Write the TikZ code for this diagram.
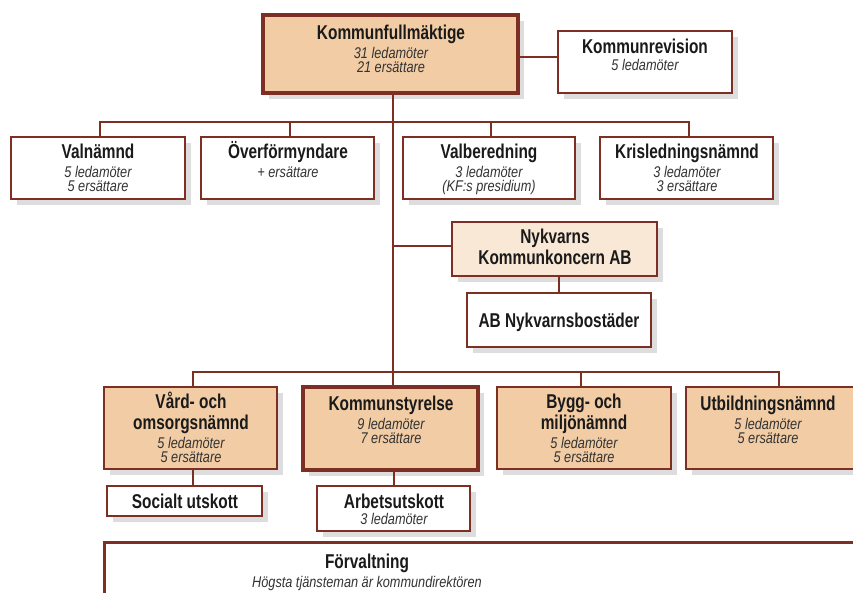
\documentclass[tikz,border=0pt]{standalone}
\usepackage{fontspec}
\setmainfont{Liberation Sans}[FakeStretch=0.77]
\newfontfamily\orgitfam{Liberation Sans}[FakeStretch=0.82]
\usetikzlibrary{shadows}
\definecolor{bord}{HTML}{7E2F24}
\definecolor{orgtan}{HTML}{F1CCA5}
\definecolor{orglight}{HTML}{FAE8D7}
\definecolor{shad}{HTML}{DDDDDD}
\definecolor{txtbold}{HTML}{1A1A1A}
\definecolor{txtit}{HTML}{333333}
\newcommand\orgtitle[1]{\rule[-6pt]{0pt}{21pt}{\color{txtbold}\bfseries\fontsize{20}{20}\selectfont #1}}
\newcommand\orgsub[1]{\rule[-1pt]{0pt}{14pt}{\color{txtit}\orgitfam\itshape\fontsize{15.5}{15.5}\selectfont #1}}
\newcommand\orgtext[1]{{\renewcommand\arraystretch{0}\begin{tabular}[t]{@{}c@{}}#1\end{tabular}}}
\tikzset{
  box/.style={draw=bord, line width=2.2pt, fill=white, inner sep=0pt,
    drop shadow={shadow xshift=6pt, shadow yshift=-6pt, fill=shad, opacity=1}},
  tanbox/.style={box, fill=orgtan},
  lightbox/.style={box, fill=orglight},
  heavybox/.style={tanbox, line width=4pt},
  conn/.style={draw=bord, line width=2pt},
  lbl/.style={anchor=base, inner sep=0pt}
}
\begin{document}
\begin{tikzpicture}[x=1pt,y=-1pt]
\useasboundingbox (0,0) rectangle (853,592);
\clip (0,0) rectangle (853,592);
% boxes
\node[heavybox, minimum width=255pt, minimum height=78pt] (kf) at (390.5,54) {};
\node[box, minimum width=174pt, minimum height=62pt] (krev) at (645,62) {};
\node[box, minimum width=174pt, minimum height=62pt] (valn) at (98,168) {};
\node[box, minimum width=173pt, minimum height=62pt] (overf) at (287.5,168) {};
\node[box, minimum width=172pt, minimum height=62pt] (valb) at (489,168) {};
\node[box, minimum width=173pt, minimum height=62pt] (kris) at (686.5,168) {};
\node[lightbox, minimum width=205pt, minimum height=54pt] (nyk) at (554.5,249) {};
\node[box, minimum width=184pt, minimum height=54pt] (abn) at (559,320) {};
\node[tanbox, minimum width=173pt, minimum height=82pt] (vard) at (190.5,428) {};
\node[heavybox, minimum width=175pt, minimum height=83pt] (ks) at (390.5,428.5) {};
\node[tanbox, minimum width=174pt, minimum height=82pt] (bygg) at (584,428) {};
\node[tanbox, minimum width=186pt, minimum height=82pt] (utb) at (779,428) {};
\node[box, minimum width=155pt, minimum height=30pt] (soc) at (184.5,501) {};
\node[box, minimum width=153pt, minimum height=45pt] (au) at (393.5,508.5) {};
\node[box, line width=3pt, minimum width=796pt, minimum height=98pt] (forv) at (502,591) {};
% bus points
\coordinate (bus1) at (393,122);
\coordinate (bus2) at (393,372);
% connectors
\draw[conn] ([yshift=-3pt]kf.east) -- ([yshift=-3pt]kf.east -| krev.west);
\draw[conn] (bus1 |- kf.south) -- (bus1 |- ks.north);
\draw[conn] ([xshift=2pt]valn.north) |- (bus1) -| ([xshift=2pt]kris.north);
\draw[conn] ([xshift=2pt]overf.north) -- ([xshift=2pt]overf.north |- bus1);
\draw[conn] ([xshift=2pt]valb.north) -- ([xshift=2pt]valb.north |- bus1);
\draw[conn] ([yshift=3pt]nyk.west) -- ([yshift=3pt]nyk.west -| bus1);
\draw[conn] (abn.north) -- (abn.north |- nyk.south);
\draw[conn] ([xshift=2pt]vard.north) |- (bus2) -| (utb.north);
\draw[conn] ([xshift=-3pt]bygg.north) -- ([xshift=-3pt]bygg.north |- bus2);
\draw[conn] ([xshift=2pt]vard.south) -- ([xshift=2pt]vard.south |- soc.north);
\draw[conn] (au.north) -- (au.north |- ks.south);
% texts
\node[lbl] (kf-t) at (391,39) {\orgtext{\orgtitle{Kommunfullmäktige}\\[3pt]\orgsub{31 ledamöter}\\\orgsub{21 ersättare}}};
\node[lbl] (krev-t) at (645,53) {\orgtext{\orgtitle{Kommunrevision}\\[-2pt]\orgsub{5 ledamöter}}};
\node[lbl] (valn-t) at (98,158) {\orgtext{\orgtitle{Valnämnd}\\\orgsub{5 ledamöter}\\\orgsub{5 ersättare}}};
\node[lbl] (overf-t) at (288,158) {\orgtext{\orgtitle{Överförmyndare}\\\orgsub{+ ersättare}}};
\node[lbl] (valb-t) at (489,158) {\orgtext{\orgtitle{Valberedning}\\\orgsub{3 ledamöter}\\\orgsub{(KF:s presidium)}}};
\node[lbl] (kris-t) at (687,158) {\orgtext{\orgtitle{Krisledningsnämnd}\\\orgsub{3 ledamöter}\\\orgsub{3 ersättare}}};
\node[lbl] (nyk-t) at (555,243) {\orgtext{\orgtitle{Nykvarns}\\\orgtitle{Kommunkoncern AB}}};
\node[lbl] (abn-t) at (559,327) {\orgtext{\orgtitle{AB Nykvarnsbostäder}}};
\node[lbl] (vard-t) at (191,408) {\orgtext{\orgtitle{Vård- och}\\\orgtitle{omsorgsnämnd}\\\orgsub{5 ledamöter}\\\orgsub{5 ersättare}}};
\node[lbl] (ks-t) at (391,410) {\orgtext{\orgtitle{Kommunstyrelse}\\\orgsub{9 ledamöter}\\\orgsub{7 ersättare}}};
\node[lbl] (bygg-t) at (584,408) {\orgtext{\orgtitle{Bygg- och}\\\orgtitle{miljönämnd}\\\orgsub{5 ledamöter}\\\orgsub{5 ersättare}}};
\node[lbl] (utb-t) at (768,410) {\orgtext{\orgtitle{Utbildningsnämnd}\\\orgsub{5 ledamöter}\\\orgsub{5 ersättare}}};
\node[lbl] (soc-t) at (185,508) {\orgtext{\orgtitle{Socialt utskott}}};
\node[lbl] (au-t) at (394,508) {\orgtext{\orgtitle{Arbetsutskott}\\[-3pt]\orgsub{3 ledamöter}}};
\node[lbl] (forv-t) at (367,568) {\orgtext{\orgtitle{Förvaltning}\\[3pt]\orgsub{Högsta tjänsteman är kommundirektören}}};
\end{tikzpicture}
\end{document}
